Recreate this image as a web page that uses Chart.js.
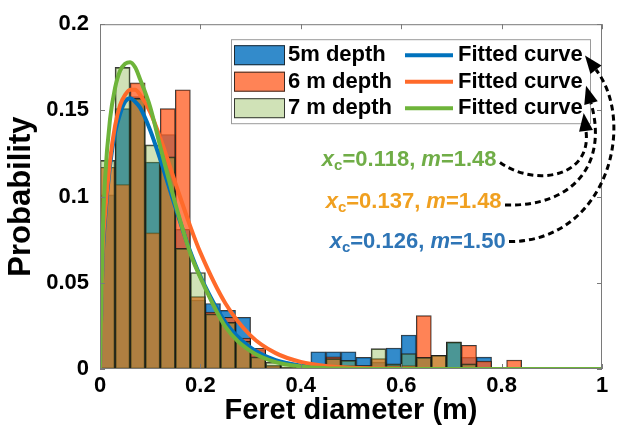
<!DOCTYPE html>
<html>
<head>
<meta charset="utf-8">
<script src="https://cdn.jsdelivr.net/npm/chart.js@4.4.1/dist/chart.umd.min.js"></script>
<style>
  html, body { margin: 0; padding: 0; background: #fff; }
  #wrap { width: 620px; height: 434px; }
</style>
</head>
<body>
<div id="wrap"><canvas id="feretChart" width="620" height="434"></canvas></div>
<script>
// histogram bins (0.03 m wide), centre of each bin
const binCenters = [0.015, 0.045, 0.075, 0.105, 0.135, 0.165, 0.195, 0.225, 0.255, 0.285,
  0.315, 0.345, 0.375, 0.405, 0.435, 0.465, 0.495, 0.525, 0.555, 0.585,
  0.615, 0.645, 0.675, 0.705, 0.735, 0.765, 0.795, 0.825, 0.855, 0.885,
  0.915, 0.945, 0.975];

const depth5 = [0.101, 0.151, 0.158, 0.120, 0.136, 0.081, 0.040, 0.038, 0.034, 0.030,
  0.011, 0.002, 0.001, 0, 0.010, 0.010, 0.010, 0.0067, 0.004, 0.0122,
  0.0197, 0.0067, 0, 0.0155, 0.0067, 0.0069, 0, 0, 0, 0,
  0, 0, 0];
const depth6 = [0.117, 0.107, 0.166, 0.079, 0.151, 0.162, 0.042, 0.033, 0.030, 0.018,
  0.012, 0.002, 0.001, 0, 0, 0.007, 0.002, 0.002, 0.006, 0.002,
  0.002, 0.031, 0.008, 0.001, 0.0138, 0.0046, 0, 0.0052, 0, 0,
  0, 0, 0];
const depth7 = [0.121, 0.175, 0.157, 0.130, 0.123, 0.070, 0.056, 0.032, 0.027, 0.016,
  0.007, 0.004, 0.003, 0.001, 0.002, 0.006, 0.005, 0.002, 0.0118, 0.003,
  0.009, 0.0067, 0.008, 0.0157, 0.003, 0, 0, 0, 0, 0,
  0, 0, 0];

// fitted probability curves
const curveX = [0, 0.005, 0.01, 0.02, 0.03, 0.04, 0.05, 0.06, 0.07, 0.08, 0.1, 0.12, 0.15,
  0.18, 0.2, 0.25, 0.3, 0.35, 0.4, 0.45, 0.5, 0.6, 0.7, 0.8, 0.9, 1.0];
const fit5 = [0, 0.062, 0.087, 0.118, 0.137, 0.148, 0.155, 0.157, 0.155, 0.1515, 0.1385, 0.1216, 0.094,
  0.068, 0.0537, 0.0271, 0.0124, 0.0051, 0.002, 0.0007, 0.0002, 0, 0, 0, 0, 0];
const fit6 = [0, 0.066, 0.090, 0.121, 0.141, 0.153, 0.159, 0.162, 0.162, 0.159, 0.149, 0.134, 0.108,
  0.0826, 0.0675, 0.038, 0.0194, 0.0092, 0.0041, 0.0017, 0.0007, 0.0001, 0, 0, 0, 0];
const fit7 = [0, 0.075, 0.110, 0.145, 0.163, 0.173, 0.177, 0.178, 0.175, 0.168, 0.152, 0.129, 0.096,
  0.067, 0.053, 0.0244, 0.0104, 0.004, 0.0015, 0.0005, 0.0002, 0, 0, 0, 0, 0];

const seriesNames = ['5m depth', '6 m depth', '7 m depth'];
const curveName = 'Fitted curve';
const fitXc = ['0.126', '0.137', '0.118'];
const fitM = ['1.50', '1.48', '1.48'];

const barFill = ['rgba(0,110,190,0.8)', 'rgba(255,90,30,0.75)', 'rgba(120,171,48,0.35)'];
const lineColor = ['#0072bd', '#ff6a2a', '#6eb43a'];
const textColor = ['#2e75b6', '#f0a020', '#70ad47'];
const FONT = "'Liberation Sans', Arial, sans-serif";

const toPoints = (xs, ys) => xs.map((x, i) => ({ x: x, y: ys[i] ? ys[i] : null }));
const toCurve = (xs, ys) => xs.map((x, i) => ({ x: x, y: ys[i] }));
const plainTick = v => String(parseFloat(Number(v).toFixed(3)));

const barSet = (i, values) => ({
  type: 'bar',
  label: seriesNames[i],
  data: toPoints(binCenters, values),
  backgroundColor: barFill[i],
  borderColor: 'rgba(25,25,25,0.85)',
  borderWidth: 1,
  borderSkipped: false,
  barPercentage: 1,
  categoryPercentage: 1,
  grouped: false,
  order: 5 - i
});

const lineSet = (i, values) => ({
  type: 'line',
  label: curveName,
  data: toCurve(curveX, values),
  borderColor: lineColor[i],
  borderWidth: 4,
  pointRadius: 0,
  fill: false,
  cubicInterpolationMode: 'monotone',
  order: 2 - i
});

// frame, inward ticks, legend and the parameter notes with their arrows
const decorations = {
  id: 'decorations',
  afterDatasetsDraw(chart) {
    const ctx = chart.ctx;
    const a = chart.chartArea;
    const xs = chart.scales.x, ys = chart.scales.y;
    ctx.save();

    ctx.strokeStyle = '#7a7a7a';
    ctx.lineWidth = 1;
    ctx.strokeRect(a.left + 0.5, a.top + 0.5, a.right - a.left - 1, a.bottom - a.top - 1);
    ctx.beginPath();
    xs.ticks.forEach(t => {
      const px = Math.round(xs.getPixelForValue(t.value)) + 0.5;
      ctx.moveTo(px, a.bottom); ctx.lineTo(px, a.bottom - 5);
      ctx.moveTo(px, a.top); ctx.lineTo(px, a.top + 5);
    });
    ys.ticks.forEach(t => {
      const py = Math.round(ys.getPixelForValue(t.value)) + 0.5;
      ctx.moveTo(a.left, py); ctx.lineTo(a.left + 5, py);
      ctx.moveTo(a.right, py); ctx.lineTo(a.right - 5, py);
    });
    ctx.stroke();

    // legend, two columns
    const bx = a.right - 371, by = a.top + 15, bw = 359, bh = 84;
    ctx.fillStyle = '#fff';
    ctx.fillRect(bx, by, bw, bh);
    ctx.strokeStyle = '#9a9a9a';
    ctx.strokeRect(bx + 0.5, by + 0.5, bw, bh);
    ctx.font = 'bold 22px ' + FONT;
    ctx.textBaseline = 'middle';
    ctx.textAlign = 'left';
    for (let i = 0; i < 3; i++) {
      const cy = by + 16 + i * 26.5;
      ctx.fillStyle = '#fff';
      ctx.fillRect(bx + 3, cy - 10, 51, 20);
      ctx.fillStyle = barFill[i];
      ctx.fillRect(bx + 3, cy - 10, 51, 20);
      ctx.strokeStyle = 'rgba(25,25,25,0.85)';
      ctx.lineWidth = 1;
      ctx.strokeRect(bx + 3.5, cy - 9.5, 50, 19);
      ctx.fillStyle = '#000';
      ctx.fillText(seriesNames[i], bx + 57, cy);
      ctx.strokeStyle = lineColor[i];
      ctx.lineWidth = 4;
      ctx.beginPath();
      ctx.moveTo(bx + 174, cy); ctx.lineTo(bx + 222, cy);
      ctx.stroke();
      ctx.fillStyle = '#000';
      ctx.fillText(curveName, bx + 227, cy);
    }

    // parameter notes, right-aligned at the given data position
    const notes = [
      { i: 2, x: 0.790, y: 0.1215 },
      { i: 1, x: 0.800, y: 0.0968 },
      { i: 0, x: 0.808, y: 0.0739 }
    ];
    const big = 'bold 22px ' + FONT, ital = 'italic bold 22px ' + FONT, small = 'bold 15px ' + FONT;
    notes.forEach(n => {
      const parts = [
        { t: 'x', f: ital, dy: 0 },
        { t: 'c', f: small, dy: 6 },
        { t: '=' + fitXc[n.i] + ', ', f: big, dy: 0 },
        { t: 'm', f: ital, dy: 0 },
        { t: '=' + fitM[n.i], f: big, dy: 0 }
      ];
      let w = 0;
      parts.forEach(p => { ctx.font = p.f; p.w = ctx.measureText(p.t).width; w += p.w; });
      let px = xs.getPixelForValue(n.x) - w;
      const py = ys.getPixelForValue(n.y);
      ctx.fillStyle = textColor[n.i];
      ctx.textBaseline = 'middle';
      parts.forEach(p => { ctx.font = p.f; ctx.fillText(p.t, px, py + p.dy); px += p.w; });
    });

    // dashed arrows from the notes to the legend entries
    const arrows = [
      [[0.7968, 0.1198], [0.8665, 0.1054], [0.9801, 0.1112], [0.9681, 0.1381]],
      [[0.8068, 0.0951], [0.9462, 0.0940], [1.0120, 0.1198], [0.9781, 0.1542]],
      [[0.8147, 0.0739], [1.0100, 0.0739], [1.0700, 0.1427], [0.9880, 0.1736]]
    ];
    arrows.forEach(pts => {
      const p = pts.map(q => [xs.getPixelForValue(q[0]), ys.getPixelForValue(q[1])]);
      ctx.strokeStyle = '#000';
      ctx.lineWidth = 3;
      ctx.setLineDash([6, 4]);
      ctx.beginPath();
      ctx.moveTo(p[0][0], p[0][1]);
      ctx.bezierCurveTo(p[1][0], p[1][1], p[2][0], p[2][1], p[3][0], p[3][1]);
      ctx.stroke();
      ctx.setLineDash([]);
      let dx = p[3][0] - p[2][0], dy = p[3][1] - p[2][1];
      const len = Math.hypot(dx, dy);
      dx /= len; dy /= len;
      const tipX = p[3][0] + dx * 18, tipY = p[3][1] + dy * 18;
      ctx.fillStyle = '#000';
      ctx.beginPath();
      ctx.moveTo(tipX, tipY);
      ctx.lineTo(p[3][0] - dy * 7, p[3][1] + dx * 7);
      ctx.lineTo(p[3][0] + dy * 7, p[3][1] - dx * 7);
      ctx.closePath();
      ctx.fill();
    });

    ctx.restore();
  }
};

document.addEventListener('DOMContentLoaded', function() {
  const ctx = document.getElementById('feretChart').getContext('2d');
  new Chart(ctx, {
    type: 'bar',
    data: {
      datasets: [
        barSet(0, depth5),
        barSet(1, depth6),
        barSet(2, depth7),
        lineSet(0, fit5),
        lineSet(1, fit6),
        lineSet(2, fit7)
      ]
    },
    options: {
      responsive: false,
      animation: false,
      layout: { padding: { top: 20, right: 18, left: 0, bottom: 0 } },
      plugins: { legend: { display: false }, tooltip: { enabled: false } },
      scales: {
        x: {
          type: 'linear',
          min: 0,
          max: 1,
          offset: false,
          grid: { display: false, drawTicks: false },
          border: { display: false },
          ticks: { stepSize: 0.2, padding: 4, color: '#000', callback: plainTick,
            font: { family: FONT, size: 22, weight: 'bold' } },
          title: {
            display: true,
            text: 'Feret diameter (m)',
            color: '#000',
            font: { family: FONT, size: 29, weight: 'bold' },
            padding: { top: 0, bottom: 6 }
          },
          afterFit: s => { s.height = 65; }
        },
        y: {
          min: 0,
          max: 0.2,
          grid: { display: false, drawTicks: false },
          border: { display: false },
          ticks: { stepSize: 0.05, padding: 11, color: '#000', callback: plainTick,
            font: { family: FONT, size: 22, weight: 'bold' } },
          title: {
            display: true,
            text: 'Probability',
            color: '#000',
            font: { family: FONT, size: 31, weight: 'bold' },
            padding: { top: 3, bottom: 0 }
          },
          afterFit: s => { s.width = 100; }
        }
      }
    },
    plugins: [decorations]
  });
});
</script>
</body>
</html>
